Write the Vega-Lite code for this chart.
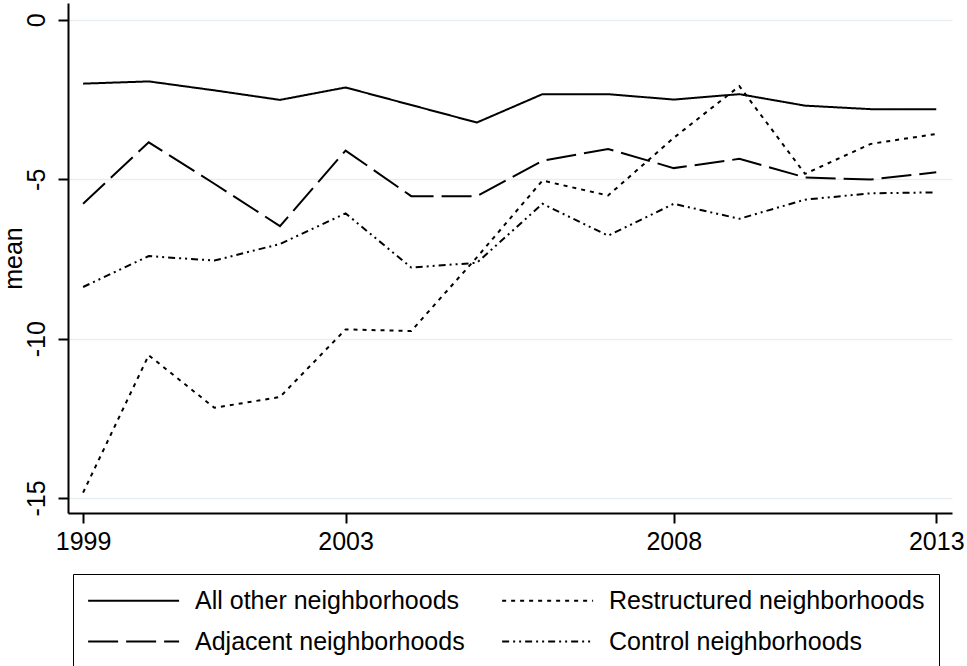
{
  "$schema": "https://vega.github.io/schema/vega-lite/v6.json",
  "autosize": {"type": "none"},
  "padding": {"left": 68, "top": 3, "right": 15, "bottom": 153},
  "width": 884,
  "height": 510,
  "background": "white",
  "config": {
    "view": {"stroke": null},
    "font": "Liberation Sans"
  },
  "data": {
    "values": [
      {"period": 1, "group": "All other neighborhoods", "mean": -2.0},
      {"period": 2, "group": "All other neighborhoods", "mean": -1.93},
      {"period": 3, "group": "All other neighborhoods", "mean": -2.21},
      {"period": 4, "group": "All other neighborhoods", "mean": -2.51},
      {"period": 5, "group": "All other neighborhoods", "mean": -2.12},
      {"period": 6, "group": "All other neighborhoods", "mean": -2.67},
      {"period": 7, "group": "All other neighborhoods", "mean": -3.22},
      {"period": 8, "group": "All other neighborhoods", "mean": -2.33},
      {"period": 9, "group": "All other neighborhoods", "mean": -2.33},
      {"period": 10, "group": "All other neighborhoods", "mean": -2.5},
      {"period": 11, "group": "All other neighborhoods", "mean": -2.33},
      {"period": 12, "group": "All other neighborhoods", "mean": -2.69},
      {"period": 13, "group": "All other neighborhoods", "mean": -2.8},
      {"period": 14, "group": "All other neighborhoods", "mean": -2.8},
      {"period": 1, "group": "Adjacent neighborhoods", "mean": -5.77},
      {"period": 2, "group": "Adjacent neighborhoods", "mean": -3.84},
      {"period": 3, "group": "Adjacent neighborhoods", "mean": -5.14},
      {"period": 4, "group": "Adjacent neighborhoods", "mean": -6.47},
      {"period": 5, "group": "Adjacent neighborhoods", "mean": -4.1},
      {"period": 6, "group": "Adjacent neighborhoods", "mean": -5.53},
      {"period": 7, "group": "Adjacent neighborhoods", "mean": -5.53},
      {"period": 8, "group": "Adjacent neighborhoods", "mean": -4.42},
      {"period": 9, "group": "Adjacent neighborhoods", "mean": -4.05},
      {"period": 10, "group": "Adjacent neighborhoods", "mean": -4.65},
      {"period": 11, "group": "Adjacent neighborhoods", "mean": -4.36},
      {"period": 12, "group": "Adjacent neighborhoods", "mean": -4.94},
      {"period": 13, "group": "Adjacent neighborhoods", "mean": -5.01},
      {"period": 14, "group": "Adjacent neighborhoods", "mean": -4.78},
      {"period": 1, "group": "Restructured neighborhoods", "mean": -14.83},
      {"period": 2, "group": "Restructured neighborhoods", "mean": -10.52},
      {"period": 3, "group": "Restructured neighborhoods", "mean": -12.17},
      {"period": 4, "group": "Restructured neighborhoods", "mean": -11.83},
      {"period": 5, "group": "Restructured neighborhoods", "mean": -9.71},
      {"period": 6, "group": "Restructured neighborhoods", "mean": -9.76},
      {"period": 7, "group": "Restructured neighborhoods", "mean": -7.45},
      {"period": 8, "group": "Restructured neighborhoods", "mean": -5.04},
      {"period": 9, "group": "Restructured neighborhoods", "mean": -5.51},
      {"period": 10, "group": "Restructured neighborhoods", "mean": -3.7},
      {"period": 11, "group": "Restructured neighborhoods", "mean": -2.08},
      {"period": 12, "group": "Restructured neighborhoods", "mean": -4.83},
      {"period": 13, "group": "Restructured neighborhoods", "mean": -3.89},
      {"period": 14, "group": "Restructured neighborhoods", "mean": -3.58},
      {"period": 1, "group": "Control neighborhoods", "mean": -8.38},
      {"period": 2, "group": "Control neighborhoods", "mean": -7.41},
      {"period": 3, "group": "Control neighborhoods", "mean": -7.55},
      {"period": 4, "group": "Control neighborhoods", "mean": -7.03},
      {"period": 5, "group": "Control neighborhoods", "mean": -6.07},
      {"period": 6, "group": "Control neighborhoods", "mean": -7.77},
      {"period": 7, "group": "Control neighborhoods", "mean": -7.62},
      {"period": 8, "group": "Control neighborhoods", "mean": -5.77},
      {"period": 9, "group": "Control neighborhoods", "mean": -6.77},
      {"period": 10, "group": "Control neighborhoods", "mean": -5.77},
      {"period": 11, "group": "Control neighborhoods", "mean": -6.24},
      {"period": 12, "group": "Control neighborhoods", "mean": -5.64},
      {"period": 13, "group": "Control neighborhoods", "mean": -5.44},
      {"period": 14, "group": "Control neighborhoods", "mean": -5.41}
    ]
  },
  "mark": {"type": "line", "color": "black", "strokeWidth": 2},
  "encoding": {
    "x": {
      "field": "period",
      "type": "quantitative",
      "scale": {"domain": [0.77, 14.24], "nice": false, "zero": false},
      "axis": {
        "title": null,
        "values": [1, 5, 10, 14],
        "labelExpr": "datum.value == 1 ? '1999' : datum.value == 5 ? '2003' : datum.value == 10 ? '2008' : '2013'",
        "grid": false,
        "domainColor": "black",
        "domainWidth": 2,
        "tickColor": "black",
        "tickWidth": 2,
        "tickSize": 10,
        "labelFontSize": 25,
        "labelColor": "black",
        "labelPadding": 6,
        "labelFont": "Liberation Sans"
      }
    },
    "y": {
      "field": "mean",
      "type": "quantitative",
      "scale": {"domain": [-15.47, 0.53], "nice": false, "zero": false},
      "axis": {
        "title": "mean",
        "titleFontSize": 25,
        "titleFontWeight": "normal",
        "titleColor": "black",
        "titleFont": "Liberation Sans",
        "titlePadding": -2,
        "values": [0, -5, -10, -15],
        "labelExpr": "datum.value == 0 ? '0' : '-' + abs(datum.value)",
        "grid": true,
        "gridColor": "#e6eef1",
        "gridWidth": 1.5,
        "domainColor": "black",
        "domainWidth": 2,
        "tickColor": "black",
        "tickWidth": 2,
        "tickSize": 10,
        "labelFontSize": 25,
        "labelColor": "black",
        "labelFont": "Liberation Sans",
        "labelAngle": 270,
        "labelAlign": "center",
        "labelBaseline": "bottom",
        "labelPadding": 9
      }
    },
    "strokeDash": {
      "field": "group",
      "type": "nominal",
      "scale": {
        "domain": ["All other neighborhoods", "Restructured neighborhoods", "Adjacent neighborhoods", "Control neighborhoods"],
        "range": [[1, 0], [4, 5], [30, 8], [7, 4, 2, 4, 2, 4]]
      },
      "legend": {
        "title": null,
        "orient": "none",
        "legendX": 5,
        "legendY": 571,
        "direction": "horizontal",
        "columns": 2,
        "strokeColor": "black",
        "fillColor": "white",
        "padding": 14,
        "symbolType": "M-1,0H7",
        "symbolSize": 517,
        "symbolStrokeWidth": 2,
        "symbolStrokeColor": "black",
        "labelFontSize": 25,
        "labelFont": "Liberation Sans",
        "labelColor": "black",
        "labelOffset": 83,
        "labelLimit": 500,
        "columnPadding": 33,
        "rowPadding": 15
      }
    }
  }
}
